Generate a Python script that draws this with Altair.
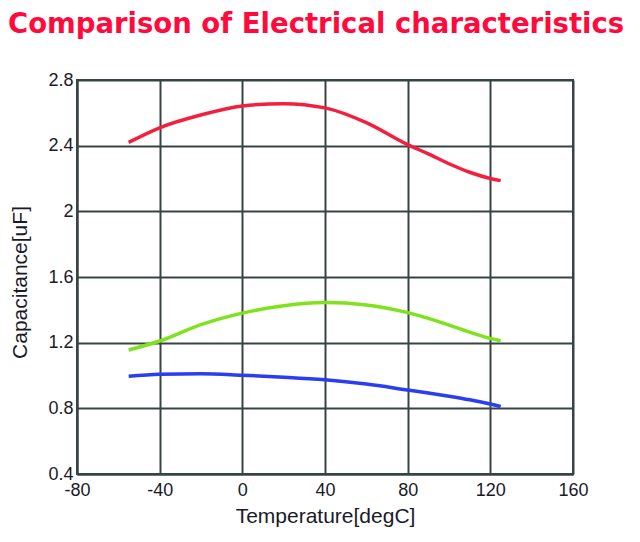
import altair as alt
import pandas as pd

temps = [-55, -40, -20, 0, 20, 40, 60, 80, 90, 100, 110, 120, 125]
red_vals = [2.42, 2.509, 2.587, 2.642, 2.656, 2.63, 2.54, 2.406, 2.35, 2.29, 2.238, 2.20, 2.187]
green_vals = [1.155, 1.21, 1.31, 1.38, 1.425, 1.444, 1.43, 1.383, 1.348, 1.307, 1.264, 1.226, 1.212]
blue_vals = [0.995, 1.007, 1.011, 1.002, 0.99, 0.974, 0.948, 0.912, 0.894, 0.874, 0.852, 0.826, 0.811]
series_names = ["Red", "Green", "Blue"]
series_colors = ["#F2203E", "#7EE31C", "#2A3DF0"]

x_ticks = [-80, -40, 0, 40, 80, 120, 160]
y_ticks = [0.4, 0.8, 1.2, 1.6, 2.0, 2.4, 2.8]

rows = []
for name, vals in zip(series_names, [red_vals, green_vals, blue_vals]):
    for t, v in zip(temps, vals):
        rows.append({"temp": t, "cap": v, "series": name})
df = pd.DataFrame(rows)

grid_color = "#384444"

chart = alt.Chart(df).mark_line(strokeWidth=3.5, interpolate="monotone").encode(
    x=alt.X("temp:Q",
            scale=alt.Scale(domain=[-80, 160], nice=False, zero=False),
            axis=alt.Axis(values=x_ticks, title="Temperature[degC]",
                          labelExpr="datum.value + ''", labelFlush=False,
                          titleX=248, titleY=48, titleBaseline="alphabetic",
                          titleAlign="center", labelPadding=7)),
    y=alt.Y("cap:Q",
            scale=alt.Scale(domain=[0.4, 2.8], nice=False, zero=False),
            axis=alt.Axis(values=y_ticks, title="Capacitance[uF]",
                          labelExpr="datum.value + ''", labelFlush=False,
                          titleX=-51, titleY=202, titleBaseline="alphabetic",
                          titleAlign="center", titleAngle=-90, labelPadding=4)),
    color=alt.Color("series:N",
                    scale=alt.Scale(domain=series_names, range=series_colors),
                    legend=None),
    detail="series:N",
).properties(
    width=496,
    height=394,
    background="white",
    autosize=alt.AutoSizeParams(type="none"),
    padding={"left": 69, "top": 72, "right": 59, "bottom": 60},
    title=alt.TitleParams(
        text="Comparison of Electrical characteristics",
        anchor="start", frame="group", dx=-69, offset=11,
        baseline="alphabetic",
        font="DejaVu Sans", fontSize=27.5, fontWeight="bold", color="#FF0A3C",
    ),
).configure_axis(
    grid=True, gridColor=grid_color, gridWidth=2, gridOpacity=1,
    domain=True, domainColor=grid_color, domainWidth=2,
    ticks=False,
    labelFont="Liberation Sans", labelFontSize=18, labelColor="#1a1a2a",
    titleFont="Liberation Sans", titleFontSize=21, titleFontWeight="normal",
    titleColor="#1a1a2a",
).configure_view(
    stroke=grid_color, strokeWidth=2,
)

chart.save("out.html", embed_options={"renderer": "svg", "actions": False})
